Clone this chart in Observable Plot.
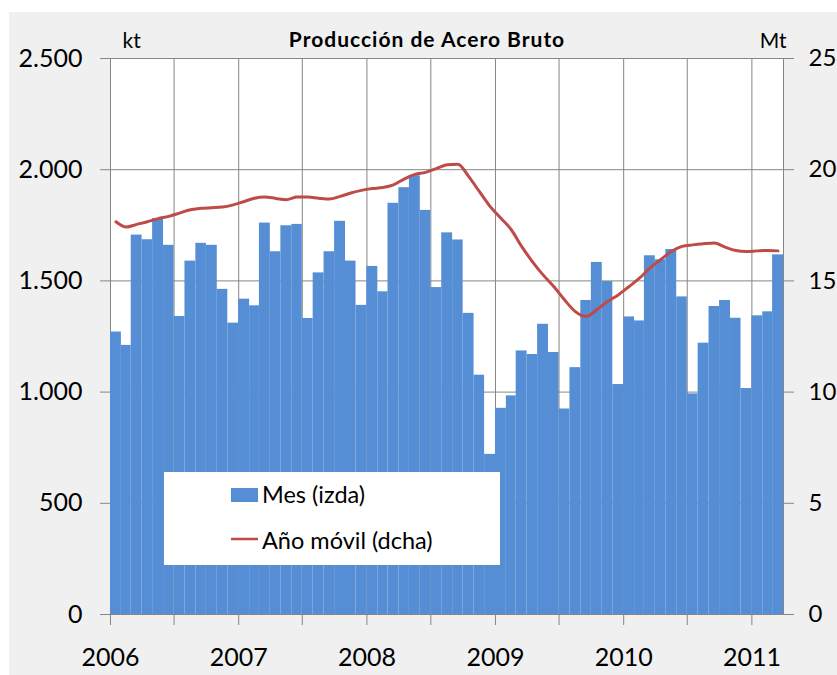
<!DOCTYPE html>
<html><head><meta charset="utf-8">
<script src="https://cdn.jsdelivr.net/npm/d3@7"></script>
<script src="https://cdn.jsdelivr.net/npm/@observablehq/plot@0.6"></script>
<style>
html,body{margin:0;padding:0;background:#fff;}
#wrap{position:relative;width:837px;height:675px;overflow:hidden;}
#bg{position:absolute;left:9px;top:12px;right:0;bottom:0;background:#f0f0f0;}
#chart{position:absolute;left:0;top:0;}
</style></head><body>
<div id="wrap"><div id="bg"></div><div id="chart"></div></div>
<script>
// Monthly crude steel production (kt), left axis
const mes2006 = [1270,1210,1706,1685,1781,1660,1340,1589,1669,1660,1462,1310];
const mes2007 = [1418,1388,1760,1631,1748,1754,1331,1536,1631,1768,1589,1390];
const mes2008 = [1565,1451,1849,1919,1973,1817,1470,1716,1684,1354,1076,720];
const mes2009 = [927,983,1185,1169,1305,1178,924,1110,1412,1583,1497,1034];
const mes2010 = [1338,1320,1613,1595,1641,1428,992,1220,1385,1412,1332,1016];
const mes2011 = [1343,1361,1617];
// Moving year (Mt), right axis
const movil2006 = [17.66,17.42,17.54,17.66,17.80,17.90,18.05,18.20,18.27,18.29,18.32,18.42];
const movil2007 = [18.57,18.72,18.77,18.71,18.65,18.77,18.77,18.72,18.68,18.80,18.95,19.07];
const movil2008 = [19.15,19.20,19.32,19.58,19.79,19.88,20.05,20.22,20.25,19.70,19.02,18.35];
const movil2009 = [17.82,17.30,16.55,15.87,15.27,14.75,14.15,13.62,13.40,13.70,14.07,14.37];
const movil2010 = [14.75,15.12,15.57,15.95,16.32,16.55,16.62,16.67,16.70,16.52,16.37,16.32];
const movil2011 = [16.35,16.37,16.35];
// Tick labels
const years = [2006,2007,2008,2009,2010,2011];
const yTicksKt = [0,500,1000,1500,2000,2500];
const yTicksMt = [0,5,10,15,20,25];
const titulo = "Producción de Acero Bruto";
const unidadIzda = "kt", unidadDcha = "Mt";
const leyendaMes = "Mes (izda)", leyendaMovil = "Año móvil (dcha)";

const mes = [...mes2006,...mes2007,...mes2008,...mes2009,...mes2010,...mes2011];
const movil = [...movil2006,...movil2007,...movil2008,...movil2009,...movil2010,...movil2011];
const start = new Date(Date.UTC(2006,0,1));
const end = d3.utcMonth.offset(start, mes.length);
const months = d3.utcMonths(start, end);
const bars = months.map((m,i)=>({start:m, end:d3.utcMonth.offset(m,1), value:mes[i]}));
const lineData = months.map((m,i)=>({mid:new Date((+m + +d3.utcMonth.offset(m,1))/2), value:movil[i]}));
const yearDates = years.map(y=>new Date(Date.UTC(y,0,1)));
const halfYears = d3.utcMonths(start, end, 6);
const esFmt = d3.formatLocale({decimal:",", thousands:".", grouping:[3], currency:["","€"]}).format(",");
const GRID = "#868686";

const svg = Plot.plot({
  width: 837, height: 675,
  marginLeft: 110, marginRight: 54, marginTop: 58, marginBottom: 61,
  style: {background:"transparent", fontFamily:"Lato, sans-serif", fontSize:"25px", color:"#000"},
  x: {type:"utc", domain:[start, end], axis:null},
  y: {domain:[0,2500], axis:null},
  marks: [
    Plot.frame({fill:"white", stroke:null}),
    Plot.gridY({ticks:yTicksKt, stroke:GRID, strokeOpacity:1}),
    Plot.gridX({ticks:halfYears, stroke:GRID, strokeOpacity:1}),
    Plot.frame({stroke:GRID}),
    Plot.rectY(bars, {x1:"start", x2:"end", y:"value", fill:"#558ed5"}),
    Plot.line(lineData, {x:"mid", y:d=>d.value*100, stroke:"#be4b48", strokeWidth:3, curve:"monotone-x"}),
    Plot.axisY({anchor:"left", ticks:yTicksKt, tickSize:10, tickPadding:18, tickFormat:esFmt, stroke:GRID, fill:"#000", label:null}),
    Plot.axisY({anchor:"right", ticks:yTicksMt.map(v=>v*100), tickSize:10, tickPadding:15, fontSize:24, tickFormat:d=>String(d/100), stroke:GRID, fill:"#000", label:null}),
    Plot.axisX({anchor:"bottom", ticks:halfYears, tickSize:11, tickFormat:()=>"", stroke:GRID, label:null}),
    Plot.axisX({anchor:"bottom", ticks:yearDates, tickSize:0, tickPadding:34, tickFormat:d3.utcFormat("%Y"), fill:"#000", label:null}),
    Plot.text([titulo], {frameAnchor:"top", dx:-20, dy:-12, lineAnchor:"bottom", fontWeight:"bold", fontSize:21, fill:"#000"}),
    Plot.text([unidadIzda], {frameAnchor:"top-left", dx:12, dy:-11, lineAnchor:"bottom", textAnchor:"start", fontSize:21, fill:"#000"}),
    Plot.text([unidadDcha], {frameAnchor:"top-right", dx:3, dy:-11, lineAnchor:"bottom", textAnchor:"end", fontSize:21, fill:"#000"})
  ]
});

// Title letter spacing (closer to the original's width)
d3.select(svg).selectAll("text").filter(function(){return this.textContent===titulo;}).attr("letter-spacing","1px");

// Legend
const g = d3.select(svg).append("g").attr("font-family","Lato, sans-serif").attr("font-size",23.5).attr("text-anchor","start");
g.append("rect").attr("x",164).attr("y",472).attr("width",336).attr("height",93).attr("fill","white");
g.append("rect").attr("x",231).attr("y",488).attr("width",27).attr("height",14).attr("fill","#558ed5");
g.append("line").attr("x1",231).attr("x2",258).attr("y1",539).attr("y2",539).attr("stroke","#be4b48").attr("stroke-width",2.5);
g.append("text").attr("x",262).attr("y",503).attr("fill","#000").text(leyendaMes);
g.append("text").attr("x",262).attr("y",549).attr("fill","#000").text(leyendaMovil);

document.getElementById("chart").appendChild(svg);
</script></body></html>
